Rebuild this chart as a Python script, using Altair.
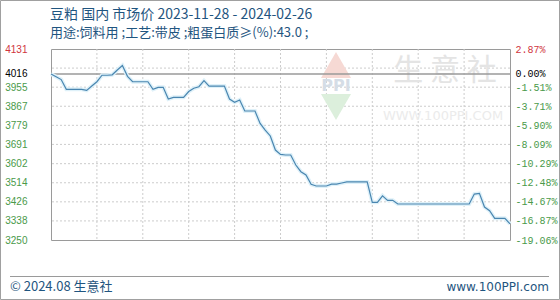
import altair as alt
import pandas as pd

# ---- data ----
start_date = "2023-11-28"
end_date = "2024-02-26"
prices = [
    4016, 4003, 3990, 3945, 3945, 3945, 3945, 3940, 3960, 3980,
    4010, 4010, 4012, 4034, 4055, 4005, 3980, 3980, 3980, 3980,
    3945, 3954, 3954, 3900, 3908, 3908, 3908, 3935, 3950, 3957,
    3985, 3960, 3960, 3960, 3960, 3900, 3885, 3896, 3845, 3845,
    3845, 3788, 3757, 3730, 3665, 3645, 3642, 3642, 3596, 3565,
    3550, 3507, 3499, 3499, 3499, 3508, 3508, 3513, 3518, 3518,
    3518, 3518, 3518, 3424, 3424, 3454, 3433, 3433, 3416, 3416,
    3416, 3416, 3416, 3416, 3416, 3416, 3416, 3416, 3416, 3416,
    3416, 3416, 3416, 3462, 3465, 3402, 3385, 3350, 3350, 3350,
    3324,
]
base_price = 4016
y_ticks = [4131, 4016, 3955, 3867, 3779, 3691, 3602, 3514, 3426, 3338, 3250]
pct_labels = ["2.87%", "0.00%", "-1.51%", "-3.71%", "-5.90%", "-8.09%",
              "-10.29%", "-12.48%", "-14.67%", "-16.87%", "-19.06%"]
grid_y = [4043, 3955, 3867, 3779, 3691, 3602, 3514, 3426, 3338]
x_ticks = ["2023-11-28", "2023-12-07", "2023-12-16", "2023-12-25", "2024-01-03",
           "2024-01-12", "2024-01-21", "2024-01-30", "2024-02-08", "2024-02-17",
           "2024-02-26"]
title_text = "豆粕 国内 市场价 2023-11-28 - 2024-02-26"
subtitle_text = "用途:饲料用 ;工艺:带皮 ;粗蛋白质≥(%):43.0 ;"
footer_left = "© 2024.08 生意社"
footer_right = "www.100PPI.com"

dates = pd.date_range(start_date, end_date, freq="D").strftime("%Y-%m-%dT00:00").tolist()
df = pd.DataFrame({"date": dates, "price": prices})


def dt(s):
    y, m, d = s.split("-")
    return alt.DateTime(year=int(y), month=int(m), date=int(d))


x_scale = alt.Scale(domain=[dt(start_date), dt(end_date)])
y_scale = alt.Scale(domain=[3250, 4131], nice=False, zero=False)

BLUE = "#1f5580"
color_expr = ("datum.value == 4131 ? '#d0343e' : datum.value == 4016 ? '#000000' : '#4a9a4a'")
pct_expr = ("[" + ",".join("'%s'" % p for p in pct_labels) + "][indexof(["
            + ",".join(str(v) for v in y_ticks) + "], datum.value)]")

# gridlines
hgrid = alt.Chart(pd.DataFrame({"g": grid_y})).mark_rule(
    color="#cccccc", strokeDash=[2, 2], strokeWidth=1
).encode(y=alt.Y("g:Q", scale=y_scale, axis=None))

vgrid = alt.Chart(pd.DataFrame({"d": [t + "T00:00" for t in x_ticks[1:-1]]})).mark_rule(
    color="#cccccc", strokeDash=[2, 2], strokeWidth=1
).encode(x=alt.X("d:T", scale=x_scale, axis=None))

baseline = alt.Chart(pd.DataFrame({"b": [base_price]})).mark_rule(
    color="#9a9a9a", strokeWidth=1.5
).encode(y=alt.Y("b:Q", scale=y_scale, axis=None))

# watermark
wm_cn = alt.Chart(pd.DataFrame({"t": ["生  意  社"]})).mark_text(
    font="Noto Sans CJK SC", fontSize=30, color="#e4e4e4", align="center", baseline="middle"
).encode(text="t:N", x=alt.value(394), y=alt.value(22))
wm_en = alt.Chart(pd.DataFrame({"t": ["WWW.100PPI.COM"]})).mark_text(
    font="DejaVu Sans", fontSize=13, color="#ebebeb", align="center", baseline="middle"
).encode(text="t:N", x=alt.value(392), y=alt.value(67))
wm_up = alt.Chart(pd.DataFrame({"s": ["triangle-up"]})).mark_point(
    filled=True, color="#f6d9d4", opacity=1, size=900
).encode(shape=alt.Shape("s:N", scale=None, legend=None), x=alt.value(285), y=alt.value(16))
wm_down = alt.Chart(pd.DataFrame({"s": ["triangle-down"]})).mark_point(
    filled=True, color="#dcefdc", opacity=1, size=900
).encode(shape=alt.Shape("s:N", scale=None, legend=None), x=alt.value(285), y=alt.value(58))
wm_ppi = alt.Chart(pd.DataFrame({"t": ["PPI"]})).mark_text(
    font="DejaVu Sans", fontSize=16, fontWeight="bold", color="#d5dde6", align="center", baseline="middle"
).encode(text="t:N", x=alt.value(285), y=alt.value(37))

glow = alt.Chart(df).mark_line(color="#dff1f9", strokeWidth=4).encode(
    x=alt.X("date:T", scale=x_scale, axis=None),
    y=alt.Y("price:Q", scale=y_scale, axis=None),
)

line = alt.Chart(df).mark_line(color="#4a86b0", strokeWidth=1.2).encode(
    x=alt.X(
        "date:T", scale=x_scale, title=None,
        axis=alt.Axis(values=[dt(t) for t in x_ticks], format="%m/%d", labelColor=BLUE,
                      labelFont="DejaVu Sans", labelFontSize=10, ticks=False, domain=False,
                      grid=False, labelPadding=12, labelOverlap=False, labelFlush=False),
    ),
    y=alt.Y(
        "price:Q", scale=y_scale, title=None,
        axis=alt.Axis(values=y_ticks, format="d", orient="left", ticks=False, domain=False,
                      grid=False, labelPadding=24, labelFont="Liberation Sans",
                      labelFontSize=10, labelColor=alt.expr(color_expr)),
    ),
)

right_axis = alt.Chart(df).mark_line(opacity=0).encode(
    x=alt.X("date:T", scale=x_scale, axis=None),
    y=alt.Y(
        "price:Q", scale=y_scale, title=None,
        axis=alt.Axis(values=y_ticks, orient="right", ticks=False, domain=False, grid=False,
                      labelPadding=5, labelFont="Liberation Mono", labelFontSize=10,
                      labelAlign="left", labelExpr=pct_expr, labelColor=alt.expr(color_expr)),
    ),
)

title = alt.Chart(pd.DataFrame({"t": [title_text]})).mark_text(
    font="Noto Sans CJK SC", fontSize=14, color=BLUE, align="left", baseline="middle"
).encode(text="t:N", x=alt.value(-1), y=alt.value(-34))
subtitle = alt.Chart(pd.DataFrame({"t": [subtitle_text]})).mark_text(
    font="Noto Sans CJK SC", fontSize=13, color=BLUE, align="left", baseline="middle"
).encode(text="t:N", x=alt.value(-1), y=alt.value(-16))

foot_l = alt.Chart(pd.DataFrame({"t": [footer_left]})).mark_text(
    font="Noto Sans CJK SC", fontSize=13, color=BLUE, align="left", baseline="middle"
).encode(text="t:N", x=alt.value(-41), y=alt.value(238))
foot_r = alt.Chart(pd.DataFrame({"t": [footer_right]})).mark_text(
    font="DejaVu Sans", fontSize=12, color=BLUE, align="right", baseline="middle"
).encode(text="t:N", x=alt.value(498), y=alt.value(238))
sep = alt.Chart(pd.DataFrame({"a": [0]})).mark_rule(color="#9a9a9a", strokeWidth=1).encode(
    x=alt.value(-41), x2=alt.value(498), y=alt.value(227.5)
)
border = alt.Chart(pd.DataFrame({"a": [0]})).mark_rect(
    fillOpacity=0, stroke="#a0a0a0", strokeWidth=1
).encode(x=alt.value(-50.5), x2=alt.value(508.5), y=alt.value(-48.5), y2=alt.value(250.5))

chart = alt.layer(
    hgrid, vgrid, wm_up, wm_down, wm_ppi, wm_cn, wm_en, baseline, glow, line, right_axis,
    title, subtitle, foot_l, foot_r, sep, border,
).resolve_scale(y="shared", x="shared").resolve_axis(y="independent").properties(
    width=459, height=191,
    padding={"left": 51, "top": 49, "right": 50, "bottom": 60},
    autosize="none",
    background="white",
).configure_view(stroke="#9a9a9a", strokeWidth=1)

chart.save("out.html", embed_options={"renderer": "svg", "actions": False})
